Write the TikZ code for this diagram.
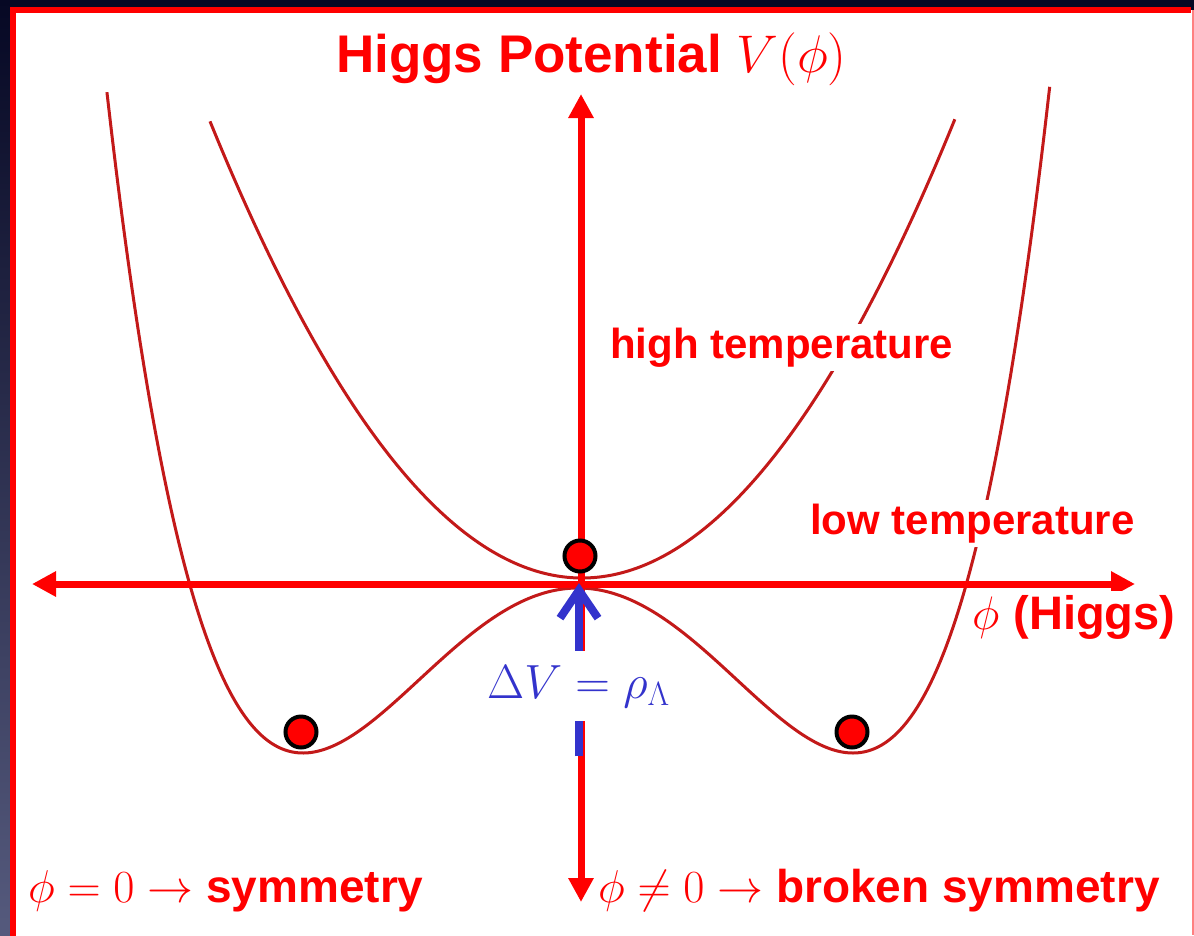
\RequirePackage{fix-cm}
\documentclass[tikz,border=0pt]{standalone}
\usepackage[no-math]{fontspec}
\setmainfont{Liberation Sans}
\usetikzlibrary{arrows.meta}
\definecolor{hred}{RGB}{255,0,0}
\definecolor{cred}{RGB}{195,25,25}
\definecolor{hblue}{RGB}{51,51,204}
\definecolor{navy}{RGB}{6,8,36}
\definecolor{slate}{RGB}{85,90,125}
\newcommand\fTitle{\bfseries\fontsize{53}{62}\selectfont}
\newcommand\fLbl{\bfseries\fontsize{42}{50}\selectfont}
\newcommand\fPhi{\bfseries\fontsize{47}{56}\selectfont}
\newcommand\fBot{\bfseries\fontsize{46}{54}\selectfont}
\newcommand\fDV{\fontsize{48}{56}\selectfont}
\begin{document}
\begin{tikzpicture}[x=1pt,y=-1pt,
  axis/.style={hred,line width=7pt,{Triangle[length=24pt,width=24pt]}-{Triangle[length=24pt,width=24pt]}},
  curve/.style={cred,line width=3pt},
  lbl/.style={text=hred,font=\fLbl,fill=white,inner sep=4pt,anchor=base west},
  ball/.style={circle,fill=hred,draw=black,line width=4pt,minimum size=31pt,inner sep=0pt}]
\useasboundingbox (0,0) rectangle (1194,935);
% slide background and frame
\fill[navy] (0,0) rectangle (1194,935);
\shade[top color=navy,bottom color=slate] (0,0) rectangle (13,935);
\fill[white] (12,10) rectangle (1194,935);
\draw[hred,line width=6pt] (12.5,940) -- (12.5,10) -- (1191,10);
\draw[red!50,line width=2pt] (1193,10) -- (1193,935);
% potentials
\draw[curve] plot[smooth,domain=-3.72:3.73,samples=120] ({582+100*\x},{578-33*\x*\x});
\draw[curve] plot[smooth,domain=-1.713:1.716,samples=200] ({578+275*\x},{588-165*(\x*\x*\x*\x-2*\x*\x)-6*max(0,\x*\x-1)^3});
% axes
\coordinate (xl) at (32,584);
\coordinate (xr) at (1135,584);
\coordinate (yt) at (581,94);
\coordinate (yb) at (581,902);
\draw[axis] (xl) -- (xr);
\draw[axis] (yb) -- (yt);
% Delta V arrow
\coordinate (bt) at (579,756);
\coordinate (bh) at (579,583);
\draw[hblue,line width=8pt,-{Straight Barb[length=28pt,width=38pt]}] (bt) -- (bh);
% labels
\node[lbl,fill=none,font=\fTitle] (title) at (332,72) {Higgs Potential $V(\phi)$};
\node[lbl] (ht) at (606,358) {high temperature};
\node[lbl] (lt) at (806,534) {low temperature};
\node[lbl,font=\fPhi] (ph) at (968,629) {$\phi$\hspace{0.3em}(Higgs)};
\node[text=hblue,fill=white,inner xsep=4pt,inner ysep=14pt,anchor=base west,font=\fDV] (dv) at (483,698) {$\Delta V=\rho_\Lambda$};
\node[lbl,fill=none,font=\fBot] (bl) at (24,902) {$\phi=0\rightarrow$ symmetry};
\node[lbl,fill=none,font=\fBot] (br) at (594,902) {$\phi\neq0\rightarrow$ broken symmetry};
% balls
\node[ball] (b0) at (580,556) {};
\node[ball] (b1) at (301,732) {};
\node[ball] (b2) at (852,732) {};
\end{tikzpicture}
\end{document}
